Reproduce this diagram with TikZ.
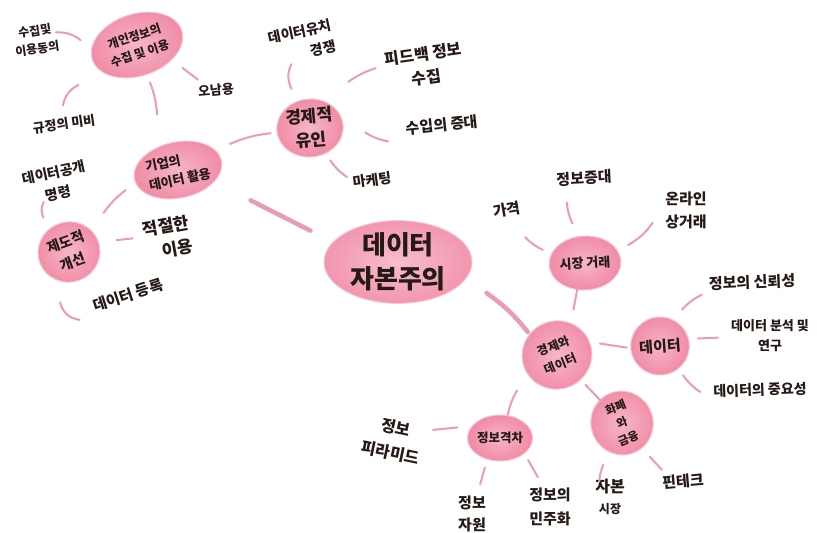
\documentclass[tikz,border=0pt]{standalone}
\usepackage{fontspec}
\setmainfont{Noto Sans CJK KR}
\usetikzlibrary{shapes.geometric,calc}
\definecolor{ink}{RGB}{38,26,22}
\definecolor{hubpink}{RGB}{240,138,165}
\definecolor{hublight}{RGB}{247,182,199}
\definecolor{corepink}{RGB}{242,150,175}
\definecolor{corelight}{RGB}{248,190,205}
\definecolor{linkpink}{RGB}{234,155,182}
\newcommand{\fsz}[2]{\fontsize{#1}{#2}\selectfont\bfseries}
\tikzset{
  hub/.style={ellipse, inner color=hublight, outer color=hubpink, draw=hubpink!50!white, line width=1pt, inner sep=0pt, align=center, text=ink},
  leaf/.style={align=center, text=ink, inner sep=0pt},
  link/.style={draw=linkpink, line width=2pt, line cap=round},
  trunk/.style={draw=linkpink, line width=4.5pt, line cap=round},
}
\begin{document}
\begin{tikzpicture}[x=1pt,y=-1pt]
\fill[white] (0,0) rectangle (817,533);
\useasboundingbox (0,0) rectangle (817,533);

% hubs
\node[hub, inner color=corelight, outer color=corepink, minimum width=148pt, minimum height=76pt, font=\fsz{26}{34}] (C) at (398,262) {데이터\\자본주의};
\node[hub, rotate=18, minimum width=94pt, minimum height=62pt, font=\fsz{12}{18}] (P) at (137,45) {개인정보의\\수집 및 이용};
\node[hub, rotate=12, minimum width=88pt, minimum height=56pt, font=\fsz{13}{19}, align=left] (E) at (178,170) {기업의\\데이터 활용};
\node[hub, rotate=5, minimum width=66pt, minimum height=58pt, font=\fsz{17}{24}] (G) at (310,128) {경제적\\유인};
\node[hub, rotate=20, minimum width=62pt, minimum height=60pt, font=\fsz{14}{21}] (J) at (69,252) {제도적\\개선};
\node[hub, rotate=3, minimum width=70pt, minimum height=54pt, font=\fsz{13}{16}] (V) at (585,263) {시장 거래};
\node[hub, rotate=22, minimum width=70pt, minimum height=68pt, font=\fsz{12}{19}] (Z) at (557,355) {경제와\\데이터};
\node[hub, rotate=4, minimum width=56pt, minimum height=58pt, font=\fsz{15}{18}] (D) at (660,346) {데이터};
\node[hub, rotate=22, minimum width=62pt, minimum height=64pt, font=\fsz{11.5}{17}] (H) at (622,423) {화폐\\와\\금융};
\node[hub, minimum width=64pt, minimum height=46pt, font=\fsz{12.5}{15}] (I) at (500,438) {정보격차};

% leaves
\node[leaf, rotate=8, font=\fsz{12}{18}] (Q) at (36,40) {수집및\\이용동의};
\node[leaf, rotate=8, font=\fsz{13}{16}] (R) at (64,124) {규정의 미비};
\node[leaf, rotate=5, font=\fsz{13}{16}] (S) at (216,90) {오남용};
\node[leaf, rotate=12, font=\fsz{14}{21}] (K) at (56,183) {데이터공개\\명령};
\node[leaf, rotate=10, font=\fsz{17}{24}, align=right] (L) at (168,238) {적절한\\이용};
\node[leaf, rotate=18, font=\fsz{15}{18}] (M) at (128,295) {데이터 등록};
\node[leaf, rotate=12, font=\fsz{14}{21}, align=right] (N) at (302,42) {데이터유치\\경쟁};
\node[leaf, rotate=8, font=\fsz{16}{24}] (O) at (425,66) {피드백 정보\\수집};
\node[leaf, rotate=6, font=\fsz{15}{18}] (T) at (442,125) {수입의 증대};
\node[leaf, rotate=8, font=\fsz{14}{17}] (U) at (372,180) {마케팅};
\node[leaf, rotate=10, font=\fsz{15}{18}] (W) at (507,210) {가격};
\node[leaf, rotate=3, font=\fsz{15}{18}] (X) at (584,178) {정보증대};
\node[leaf, font=\fsz{15}{23}] (Y) at (686,210) {온라인\\상거래};
\node[leaf, rotate=2, font=\fsz{15}{18}] (D1) at (752,282) {정보의 신뢰성};
\node[leaf, font=\fsz{13}{20}] (D2) at (770,336) {데이터 분석 및\\연구};
\node[leaf, rotate=2, font=\fsz{14}{17}] (D3) at (760,390) {데이터의 중요성};
\node[leaf, rotate=5, font=\fsz{15}{18}] (H1) at (683,481) {핀테크};
\node[leaf, font=\fsz{16}{21}] (H2) at (610,497) {자본\\{\fsz{12}{14}시장}};
\node[leaf, rotate=-12, font=\fsz{16}{26}] (I1) at (393,440) {정보\\피라미드};
\node[leaf, font=\fsz{15}{22}] (I2) at (472,514) {정보\\자원};
\node[leaf, font=\fsz{15}{24}] (I3) at (550,507) {정보의\\민주화};

% trunks
\draw[trunk] ($(C)!0.39!3:(E)$) -- ($(C)!0.67!(E)$);
\draw[trunk] ($(C)!0.51!11:(Z)$) to[bend left=8] ($(C)!0.80!2:(Z)$);

% links
\draw[link] ($(P)!0.56!-2:(Q)$) to[bend right=20] ($(P)!0.81!-6:(Q)$);
\draw[link] ($(P)!0.66!-13:(R)$) to[bend right=25] ($(P)!0.89!-8:(R)$);
\draw[link] ($(P)!0.56!3:(S)$) -- ($(P)!0.77!(S)$);
\draw[link] ($(P)!0.30!1:(E)$) to[bend left=8] ($(P)!0.55!-2:(E)$);
\draw[link] ($(E)!0.42!9:(G)$) to[bend left=8] ($(E)!0.72!4:(G)$);
\draw[link] ($(G)!0.50!20:(N)$) to[bend left=25] ($(G)!0.77!11:(N)$);
\draw[link] ($(G)!0.46!22:(O)$) to[bend left=8] ($(G)!0.68!14:(O)$);
\draw[link] ($(G)!0.42!-6:(T)$) to[bend right=10] ($(G)!0.60!-11:(T)$);
\draw[link] ($(G)!0.47!-18:(U)$) to[bend right=10] ($(G)!0.76!-13:(U)$);
\draw[link] ($(E)!0.41!-16:(J)$) to[bend right=8] ($(E)!0.63!-7:(J)$);
\draw[link] ($(J)!0.61!26:(K)$) to[bend left=25] ($(J)!0.80!16:(K)$);
\draw[link] ($(J)!0.49!6:(L)$) -- ($(J)!0.65!4:(L)$);
\draw[link] ($(J)!0.70!-64:(M)$) to[bend right=35] ($(J)!0.94!-45:(M)$);
\draw[link] ($(V)!0.47!17:(W)$) to[bend left=8] ($(V)!0.69!11:(W)$);
\draw[link] ($(V)!0.49!17:(X)$) to[bend left=10] ($(V)!0.74!16:(X)$);
\draw[link] ($(V)!0.41!-5:(Y)$) to[bend right=12] ($(V)!0.69!3:(Y)$);
\draw[link] ($(V)!0.26!(Z)$) -- ($(V)!0.50!3:(Z)$);
\draw[link] ($(Z)!0.43!10:(D)$) -- ($(Z)!0.68!1:(D)$);
\draw[link] ($(D)!0.38!24:(D1)$) to[bend left=10] ($(D)!0.59!16:(D1)$);
\draw[link] ($(D)!0.35!6:(D2)$) -- ($(D)!0.53!3:(D2)$);
\draw[link] ($(D)!0.34!-28:(D3)$) to[bend right=10] ($(D)!0.56!-25:(D3)$);
\draw[link] ($(Z)!0.44!(H)$) -- ($(Z)!0.68!(H)$);
\draw[link] ($(H)!0.52!-7:(H1)$) -- ($(H)!0.73!-6:(H1)$);
\draw[link] ($(H)!0.61!-15:(H2)$) to[bend right=8] ($(H)!0.84!-12:(H2)$);
\draw[link] ($(Z)!0.53!-14:(I)$) to[bend right=8] ($(Z)!0.77!-5:(I)$);
\draw[link] ($(I)!0.41!-15:(I1)$) -- ($(I)!0.63!-8:(I1)$);
\draw[link] ($(I)!0.41!-7:(I2)$) -- ($(I)!0.62!-3:(I2)$);
\draw[link] ($(I)!0.42!16:(I3)$) -- ($(I)!0.64!8:(I3)$);
\end{tikzpicture}
\end{document}
